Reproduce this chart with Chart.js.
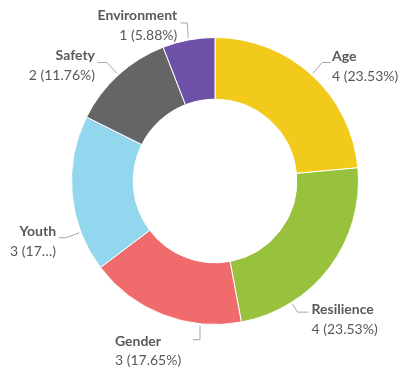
<!DOCTYPE html>
<html>
<head>
<meta charset="utf-8">
<script src="https://cdn.jsdelivr.net/npm/chart.js@4/dist/chart.umd.min.js"></script>
<style>
html,body{margin:0;padding:0;background:#fff;}
canvas{display:block;}
</style>
</head>
<body>
<canvas id="c" width="404" height="374"></canvas>
<script>
const categories = ["Age", "Resilience", "Gender", "Youth", "Safety", "Environment"];
const counts = [4, 4, 3, 3, 2, 1];
const valueLabels = ["4 (23.53%)", "4 (23.53%)", "3 (17.65%)", "3 (17\u2026)", "2 (11.76%)", "1 (5.88%)"];
const sliceColors = ["#F2CA1B", "#98C23D", "#F06B6B", "#93D7EE", "#656565", "#6E51A6"];

// label placement: where the leader touches the slice (fraction along arc),
// elbow / end offsets and text anchor offsets relative to that touch point
const labelLayout = [
  {frac:0.5,  elbow:[9,-11],  end:[18,-11], tx:19,  align:"left",  ny:-17, vy:3},
  {frac:0.745,elbow:[5,8],    end:[16,8],   tx:19,  align:"left",  ny:5,   vy:25},
  {frac:0.26, elbow:[0,14],   end:[-7,14],  tx:-85, align:"left",  ny:16,  vy:35},
  {frac:0.255,elbow:[-13,5],  end:[-20,5],  tx:-23, align:"right", ny:-1,  vy:19},
  {frac:0.5,  elbow:[-10,-11],end:[-19,-11],tx:-22, align:"right", ny:-18, vy:2},
  {frac:0.5,  elbow:[-1,-15], end:[-8,-15], tx:-11, align:"right", ny:-22, vy:-2}
];

const calloutPlugin = {
  id: "callouts",
  afterDatasetsDraw(chart) {
    const ctx = chart.ctx;
    const meta = chart.getDatasetMeta(0);
    ctx.save();
    meta.data.forEach((arc, i) => {
      const p = arc.getProps(["x","y","startAngle","endAngle","outerRadius"], true);
      const L = labelLayout[i];
      const a = p.startAngle + L.frac * (p.endAngle - p.startAngle);
      const r = p.outerRadius + 2;
      const tx0 = p.x + r * Math.cos(a);
      const ty0 = p.y + r * Math.sin(a);
      ctx.strokeStyle = "#A6A6A6";
      ctx.lineWidth = 1;
      ctx.beginPath();
      ctx.moveTo(tx0, ty0);
      ctx.lineTo(tx0 + L.elbow[0], ty0 + L.elbow[1]);
      ctx.lineTo(tx0 + L.end[0], ty0 + L.end[1]);
      ctx.stroke();
      ctx.fillStyle = "#595959";
      ctx.textAlign = L.align;
      ctx.textBaseline = "middle";
      ctx.font = "bold 14px Lato";
      ctx.fillText(categories[i], tx0 + L.tx, ty0 + L.ny);
      ctx.font = "14px Lato";
      ctx.fillText(valueLabels[i], tx0 + L.tx, ty0 + L.vy);
    });
    ctx.restore();
  }
};

new Chart(document.getElementById("c"), {
  type: "doughnut",
  data: {
    labels: categories,
    datasets: [{
      data: counts,
      backgroundColor: sliceColors,
      borderColor: "#FFFFFF",
      borderWidth: 1
    }]
  },
  options: {
    responsive: false,
    animation: false,
    cutout: "57%",
    layout: { padding: { left: 71, right: 45, top: 37, bottom: 49 } },
    plugins: {
      legend: { display: false },
      tooltip: { enabled: false }
    }
  },
  plugins: [calloutPlugin]
});
</script>
</body>
</html>
